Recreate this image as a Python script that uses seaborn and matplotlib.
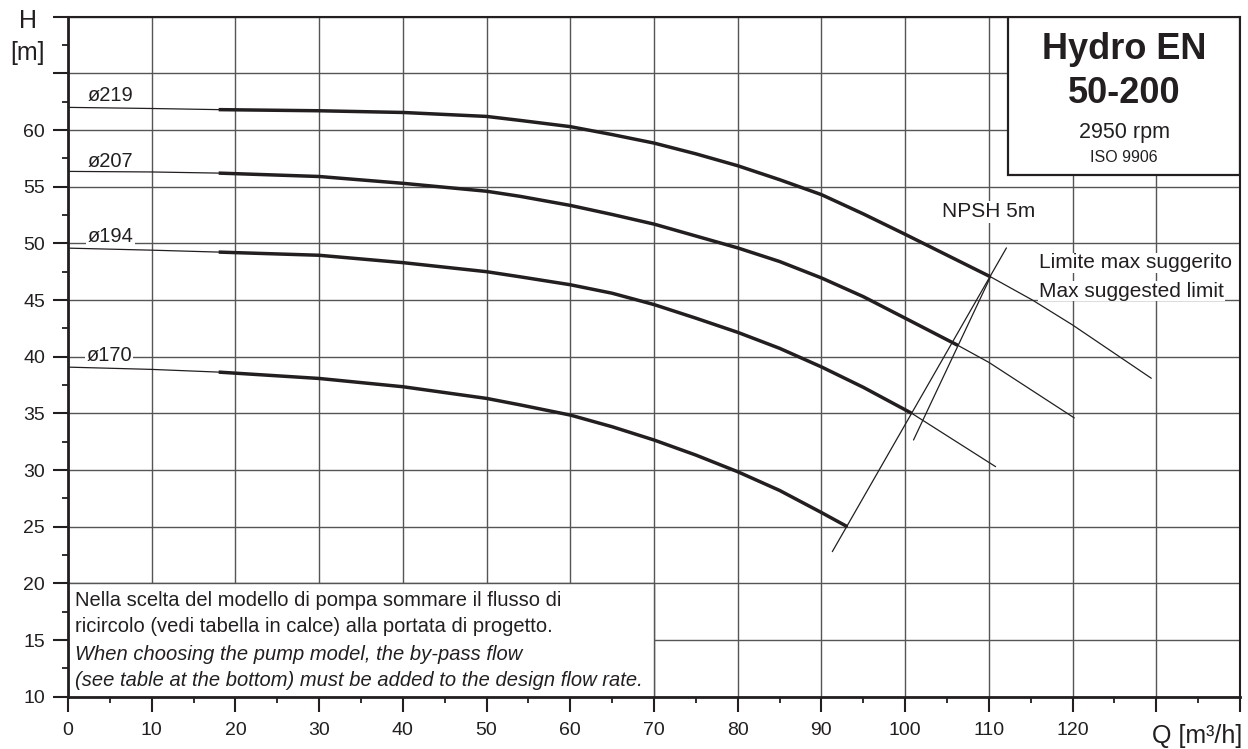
import numpy as np
import pandas as pd
import matplotlib
matplotlib.use('Agg')
import matplotlib.pyplot as plt
import seaborn as sns
from matplotlib.patches import Rectangle
from matplotlib.ticker import FixedLocator

# ---------------- data ----------------
q219 = [0, 10, 18, 30, 40, 50, 54, 60, 65, 70, 75, 80, 85, 90, 95, 100, 110.2, 115.2, 120, 129.4]
h219 = [62.0, 61.9, 61.8, 61.7, 61.55, 61.2, 60.85, 60.3, 59.6, 58.85, 57.9, 56.85, 55.62, 54.3, 52.6, 50.8, 47.05, 45.0, 42.8, 38.1]

q207 = [0, 10, 18, 30, 40, 50, 54, 60, 65, 70, 75, 80, 85, 90, 95, 100, 106.3, 110, 120.2]
h207 = [56.35, 56.3, 56.2, 55.9, 55.3, 54.6, 54.15, 53.35, 52.55, 51.7, 50.65, 49.6, 48.4, 46.95, 45.3, 43.4, 41.0, 39.5, 34.6]

q194 = [0, 10, 18, 30, 40, 50, 54, 60, 65, 70, 75, 80, 85, 90, 95, 100.8, 110.8]
h194 = [49.58, 49.4, 49.23, 48.95, 48.3, 47.5, 47.05, 46.35, 45.6, 44.6, 43.4, 42.15, 40.74, 39.1, 37.3, 35.0, 30.3]

q170 = [0, 10, 18, 30, 40, 50, 54, 60, 65, 70, 75, 80, 85, 90, 93.1]
h170 = [39.08, 38.88, 38.64, 38.08, 37.35, 36.32, 35.75, 34.85, 33.82, 32.65, 31.32, 29.85, 28.2, 26.25, 25.0]

curve_names = ["ø219", "ø207", "ø194", "ø170"]
thick_start = [18, 18, 18, 18]
thick_end = [110.2, 106.3, 100.8, 93.1]
label_pos = [(2.3, 62.6), (2.3, 56.7), (2.3, 50.1), (2.2, 39.6)]

npsh_q1 = [91.3, 112.1]
npsh_h1 = [22.8, 49.6]
npsh_q2 = [101.0, 110.2]
npsh_h2 = [32.65, 47.05]

x_major = list(range(0, 141, 10))
x_labels = [str(v) if v <= 120 else "" for v in x_major]
y_major = list(range(10, 71, 5))
y_labels = [str(v) if v <= 60 else "" for v in y_major]

note_lines = [
    "Nella scelta del modello di pompa sommare il flusso di",
    "ricircolo (vedi tabella in calce) alla portata di progetto.",
    "When choosing the pump model, the by-pass flow",
    "(see table at the bottom) must be added to the design flow rate.",
]

# ---------------- style ----------------
sns.set_theme(style='white')
plt.rcParams['font.family'] = ['Liberation Sans', 'DejaVu Sans']
INK = '#231f20'
GRID = '#555555'

fig = plt.figure(figsize=(12.48, 7.49), dpi=100)
ax = fig.add_axes([68 / 1248, 1 - 696.7 / 749, 1172 / 1248, 680 / 749])
ax.set_xlim(0, 140)
ax.set_ylim(10, 70)

# grid and ticks
ax.set_axisbelow(True)
ax.xaxis.set_major_locator(FixedLocator(x_major))
ax.yaxis.set_major_locator(FixedLocator(y_major))
ax.xaxis.set_minor_locator(FixedLocator([v + 5 for v in x_major[:-1]]))
ax.yaxis.set_minor_locator(FixedLocator([v + 2.5 for v in y_major[:-1]]))
ax.set_xticklabels(x_labels)
ax.set_yticklabels(y_labels)
ax.grid(True, which='major', color=GRID, lw=1.0)
ax.grid(False, which='minor')

ax.tick_params(which='both', bottom=True, left=True, top=False, right=False)
ax.tick_params(which='major', direction='out', length=11, width=1.5, color=INK,
               labelsize=14, labelcolor=INK)
ax.tick_params(which='minor', direction='out', length=4.5, width=1.3, color=INK)
ax.tick_params(axis='x', which='major', pad=7)
ax.tick_params(axis='y', which='major', pad=5.5)

for side, sp in ax.spines.items():
    sp.set_color(INK)
    sp.set_zorder(10)
    sp.set_visible(True)
ax.spines['left'].set_linewidth(2.0)
ax.spines['bottom'].set_linewidth(2.0)
ax.spines['top'].set_linewidth(1.5)
ax.spines['right'].set_linewidth(1.5)

# ---------------- curves ----------------
all_q = [q219, q207, q194, q170]
all_h = [h219, h207, h194, h170]
for name, q, h, t0, t1, lp in zip(curve_names, all_q, all_h, thick_start, thick_end, label_pos):
    df = pd.DataFrame({'Q': q, 'H': h})
    sns.lineplot(data=df, x='Q', y='H', ax=ax, color=INK, lw=0.9,
                 estimator=None, sort=False, zorder=5)
    thick = df[(df.Q >= t0) & (df.Q <= t1)]
    sns.lineplot(data=thick, x='Q', y='H', ax=ax, color=INK, lw=2.5,
                 estimator=None, sort=False, zorder=6, solid_capstyle='butt',
                 solid_joinstyle='round')
    ax.text(lp[0], lp[1], name, fontsize=14.5, color=INK, ha='left', va='baseline',
            zorder=4, bbox=dict(facecolor='white', edgecolor='none', pad=1.0))

# NPSH lines
sns.lineplot(x=npsh_q1, y=npsh_h1, ax=ax, color=INK, lw=0.9, estimator=None, sort=False, zorder=6)
sns.lineplot(x=npsh_q2, y=npsh_h2, ax=ax, color=INK, lw=0.9, estimator=None, sort=False, zorder=6)

ax.set_xlabel('')
ax.set_ylabel('')

ax.text(104.4, 52.3, "NPSH 5m", fontsize=15, color=INK, ha='left', va='baseline',
        zorder=4, bbox=dict(facecolor='white', edgecolor='none', pad=1.0))
ax.text(116.0, 47.8, "Limite max suggerito", fontsize=15, color=INK, ha='left', va='baseline',
        zorder=4, bbox=dict(facecolor='white', edgecolor='none', pad=0.5))
ax.text(116.0, 45.3, "Max suggested limit", fontsize=15, color=INK, ha='left', va='baseline',
        zorder=4, bbox=dict(facecolor='white', edgecolor='none', pad=0.5))

# ---------------- title box (top right) ----------------
ax.add_patch(Rectangle((112.3, 56.0), 27.7, 14.0, facecolor='white', edgecolor=INK,
                       lw=1.6, zorder=7))
bx = 126.15
ax.text(bx, 66.28, "Hydro EN", fontsize=26, fontweight='bold', color=INK,
        ha='center', va='baseline', zorder=8)
ax.text(bx, 62.4, "50-200", fontsize=26, fontweight='bold', color=INK,
        ha='center', va='baseline', zorder=8)
ax.text(bx, 59.27, "2950 rpm", fontsize=15.5, color=INK, ha='center', va='baseline', zorder=8)
ax.text(bx, 57.19, "ISO 9906", fontsize=11.5, color=INK, ha='center', va='baseline', zorder=8)

# ---------------- note box (bottom left) ----------------
ax.add_patch(Rectangle((0, 10), 70, 10, facecolor='white', edgecolor=GRID, lw=1.0, zorder=3))
note_y = [18.0, 15.7, 13.25, 10.9]
note_style = ['normal', 'normal', 'italic', 'italic']
for txt, yy, st in zip(note_lines, note_y, note_style):
    ax.text(0.85, yy, txt, fontsize=14.5, style=st, color=INK, ha='left', va='baseline', zorder=4)

# ---------------- axis titles ----------------
fig.text(27.5 / 1248, 1 - 27.7 / 749, "H", fontsize=18, color=INK, ha='center', va='baseline')
fig.text(27.0 / 1248, 1 - 60 / 749, "[m]", fontsize=18, color=INK, ha='center', va='baseline')
fig.text(1242 / 1248, 1 - 743 / 749, "Q [m³/h]", fontsize=18, color=INK, ha='right', va='baseline')

fig.savefig('out.png', dpi=100)
